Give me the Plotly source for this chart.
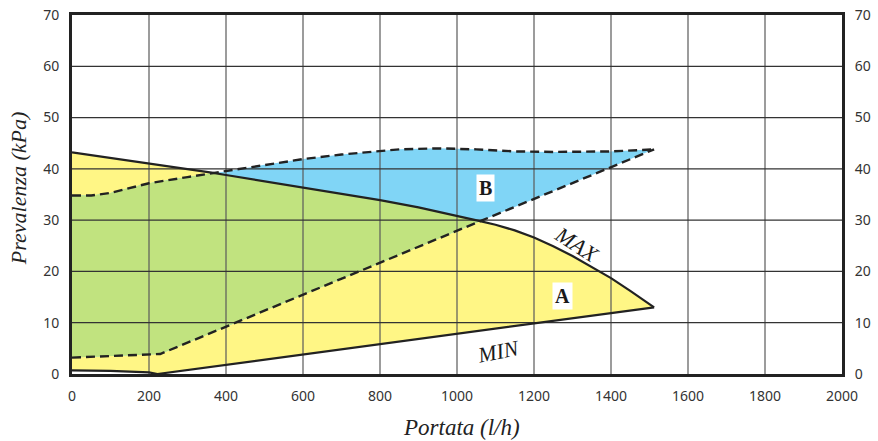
import plotly.graph_objects as go

# Curve MAX (pump max speed)
max_x = [0, 200, 367, 400, 600, 800, 900, 1000, 1060, 1100, 1150, 1200, 1250, 1300, 1350, 1400, 1450, 1512]
max_y = [43.2, 41.1, 39.2, 38.8, 36.4, 33.9, 32.5, 30.9, 29.8, 29.1, 28.0, 26.6, 24.9, 23.0, 20.9, 18.7, 16.2, 13.0]
# Curve MIN
min_x = [0, 100, 200, 222, 1512]
min_y = [0.7, 0.6, 0.3, 0.0, 13.0]
# Region B upper (dashed)
bup_x = [0, 50, 100, 150, 200, 300, 367, 400, 500, 600, 700, 800, 850, 950, 1050, 1150, 1250, 1400, 1512]
bup_y = [34.8, 34.8, 35.3, 36.3, 37.2, 38.4, 39.2, 39.5, 40.8, 41.9, 42.8, 43.5, 43.8, 44.0, 43.8, 43.4, 43.3, 43.4, 43.8]
# Region B lower (dashed)
blow_x = [0, 200, 229, 1060, 1512]
blow_y = [3.2, 3.8, 3.9, 29.8, 43.8]

x_ticks = [0, 200, 400, 600, 800, 1000, 1200, 1400, 1600, 1800, 2000]
y_ticks = [0, 10, 20, 30, 40, 50, 60, 70]

YELLOW = "#FFF685"
GREEN = "#C1E37F"
BLUE = "#80D5F6"
INK = "#222222"

fig = go.Figure()

# Region A (yellow)
fig.add_trace(go.Scatter(x=max_x + min_x[::-1], y=max_y + min_y[::-1], fill="toself",
                         fillcolor=YELLOW, mode="none", hoverinfo="skip", showlegend=False))
# Region B (blue)
fig.add_trace(go.Scatter(x=bup_x + blow_x[::-1], y=bup_y + blow_y[::-1], fill="toself",
                         fillcolor=BLUE, mode="none", hoverinfo="skip", showlegend=False))
# Overlap (green)
i_up = bup_x.index(367)
i_m0 = max_x.index(367)
i_m1 = max_x.index(1060)
i_lo = blow_x.index(1060)
gx = bup_x[:i_up + 1] + max_x[i_m0 + 1:i_m1 + 1] + blow_x[:i_lo][::-1]
gy = bup_y[:i_up + 1] + max_y[i_m0 + 1:i_m1 + 1] + blow_y[:i_lo][::-1]
fig.add_trace(go.Scatter(x=gx, y=gy, fill="toself", fillcolor=GREEN, mode="none",
                         hoverinfo="skip", showlegend=False))

# Grid drawn above fills
gxs, gys = [], []
for t in x_ticks[1:-1]:
    gxs += [t, t, None]
    gys += [y_ticks[0], y_ticks[-1], None]
fig.add_trace(go.Scatter(x=gxs, y=gys, mode="lines", line=dict(color="#5a5a5a", width=1.2),
                         hoverinfo="skip", showlegend=False))
hxs, hys = [], []
for t in y_ticks[1:-1]:
    hxs += [x_ticks[0], x_ticks[-1], None]
    hys += [t, t, None]
fig.add_trace(go.Scatter(x=hxs, y=hys, mode="lines", line=dict(color="#333333", width=1.2),
                         hoverinfo="skip", showlegend=False))

# Curves
fig.add_trace(go.Scatter(x=max_x, y=max_y, mode="lines", line=dict(color=INK, width=2.2),
                         showlegend=False))
fig.add_trace(go.Scatter(x=min_x, y=min_y, mode="lines", line=dict(color=INK, width=2.2),
                         showlegend=False))
fig.add_trace(go.Scatter(x=bup_x, y=bup_y, mode="lines",
                         line=dict(color=INK, width=2.4, dash="9px,5px"), showlegend=False))
fig.add_trace(go.Scatter(x=blow_x, y=blow_y, mode="lines",
                         line=dict(color=INK, width=2.4, dash="9px,5px"), showlegend=False))

# Dummy trace for right axis
fig.add_trace(go.Scatter(x=[None], y=[None], yaxis="y2", showlegend=False))

serif = "Liberation Serif, DejaVu Serif, serif"
fig.add_annotation(x=1073, y=36.3, text="<b>B</b>", showarrow=False, bgcolor="white",
                   font=dict(family=serif, size=20, color="#1a1a1a"), borderpad=2)
fig.add_annotation(x=1273, y=15.2, text="<b>A</b>", showarrow=False, bgcolor="white",
                   font=dict(family=serif, size=20, color="#1a1a1a"), borderpad=2)
fig.add_annotation(x=1311, y=25.2, text="<i>MAX</i>", showarrow=False, textangle=33,
                   font=dict(family=serif, size=22, color="#1a1a1a"))
fig.add_annotation(x=1107, y=4.3, text="<i>MIN</i>", showarrow=False, textangle=-11,
                   font=dict(family=serif, size=22, color="#1a1a1a"))

# Axis titles
fig.add_annotation(xref="paper", yref="paper", x=0.506, y=-0.150, text="<i>Portata (l/h)</i>",
                   showarrow=False, xanchor="center", yanchor="middle",
                   font=dict(family=serif, size=23, color="#222"))
fig.add_annotation(xref="paper", yref="paper", x=-0.070, y=0.518, text="<i>Prevalenza (kPa)</i>",
                   showarrow=False, xanchor="center", yanchor="middle", textangle=-90,
                   font=dict(family=serif, size=22, color="#222"))

tickfont = dict(family="Noto Sans, Open Sans, sans-serif", size=14, color="#333333")
fig.update_layout(
    width=878, height=441,
    margin=dict(l=72, r=36, t=15, b=67, autoexpand=False),
    paper_bgcolor="white", plot_bgcolor="white",
    xaxis=dict(range=[0, 2000], tickvals=x_ticks, showgrid=False, zeroline=False,
               showline=True, linewidth=3, linecolor=INK, mirror=True,
               ticks="outside", ticklen=7, tickcolor="rgba(0,0,0,0)",
               tickfont=tickfont, automargin=False, ticklabeloverflow="allow"),
    yaxis=dict(range=[0, 70], tickvals=y_ticks, showgrid=False, zeroline=False,
               showline=True, linewidth=3, linecolor=INK, mirror=True,
               ticks="outside", ticklen=7, tickcolor="rgba(0,0,0,0)",
               tickfont=tickfont, automargin=False, ticklabeloverflow="allow"),
    yaxis2=dict(range=[0, 70], tickvals=y_ticks, overlaying="y", side="right", showgrid=False,
                zeroline=False, showline=False, ticks="outside", ticklen=9,
                tickcolor="rgba(0,0,0,0)", tickfont=tickfont, automargin=False,
                ticklabeloverflow="allow"),
)

fig.write_html("out.html", config={"displayModeBar": False},
               post_script="document.body.style.margin='0';document.body.style.overflow='hidden';")
